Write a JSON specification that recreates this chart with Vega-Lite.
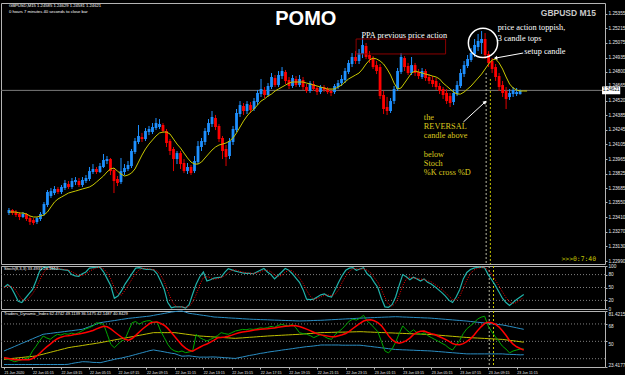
{
"$schema":"https://vega.github.io/schema/vega-lite/v6.json",
"background":"#000000",
"padding":{"left":0,"top":2,"right":0,"bottom":0},
"spacing":2,
"bounds":"flush",
"config":{"view":{"stroke":"#b4b4b4","strokeWidth":1},"axis":{"labelColor":"#e6e6e6","tickColor":"#b4b4b4","labelFont":"Liberation Sans","tickSize":2,"labelPadding":1,"grid":false,"labelFlush":false,"domain":false,"labelBound":false,"labelOverlap":false,"tickCount":100}},
"datasets":{"bars":[
{"i":0,"o":1.23449,"h":1.23497,"l":1.2343,"c":1.23478,"ma":1.23459,"k":50,"d":50,"up":40,"mid":31.4,"lo":26,"g":33.1,"r":33},
{"i":1,"o":1.23478,"h":1.23487,"l":1.2343,"c":1.23449,"ma":1.23459,"k":57,"d":53.5,"up":41.6,"mid":31.8,"lo":26,"g":31.7,"r":32.4},
{"i":2,"o":1.23459,"h":1.23478,"l":1.23411,"c":1.2343,"ma":1.23459,"k":50,"d":52.3,"up":43.1,"mid":32.2,"lo":26,"g":30.3,"r":31.7},
{"i":3,"o":1.2344,"h":1.23459,"l":1.23382,"c":1.23411,"ma":1.23449,"k":35,"d":47.3,"up":44.7,"mid":32.5,"lo":26,"g":28.9,"r":31},
{"i":4,"o":1.23411,"h":1.23459,"l":1.23401,"c":1.2344,"ma":1.23449,"k":18,"d":34.3,"up":46.3,"mid":32.9,"lo":26,"g":30,"r":30.8},
{"i":5,"o":1.2344,"h":1.23449,"l":1.23373,"c":1.23392,"ma":1.2344,"k":15,"d":22.7,"up":47.9,"mid":33.3,"lo":26,"g":31,"r":30.8},
{"i":6,"o":1.23401,"h":1.23421,"l":1.23335,"c":1.23363,"ma":1.23421,"k":25,"d":19.3,"up":49.4,"mid":33.7,"lo":26,"g":32,"r":31},
{"i":7,"o":1.23382,"h":1.23401,"l":1.23335,"c":1.23354,"ma":1.23411,"k":35,"d":25,"up":51,"mid":34,"lo":26,"g":33.1,"r":31},
{"i":8,"o":1.23363,"h":1.23411,"l":1.23344,"c":1.23401,"ma":1.23411,"k":45,"d":35,"up":52.6,"mid":34.4,"lo":26,"g":40,"r":32.2},
{"i":9,"o":1.23392,"h":1.23459,"l":1.23373,"c":1.2344,"ma":1.23421,"k":65,"d":48.3,"up":54.2,"mid":34.8,"lo":26,"g":45,"r":34.3},
{"i":10,"o":1.2344,"h":1.23554,"l":1.23421,"c":1.23535,"ma":1.2343,"k":88,"d":66,"up":55.7,"mid":35.8,"lo":26,"g":50.5,"r":37.4},
{"i":11,"o":1.23526,"h":1.23669,"l":1.23507,"c":1.2365,"ma":1.23459,"k":96,"d":83,"up":57.3,"mid":36.7,"lo":26,"g":55.5,"r":41},
{"i":12,"o":1.23612,"h":1.23688,"l":1.23593,"c":1.23659,"ma":1.23507,"k":98,"d":94,"up":57.8,"mid":37.7,"lo":26,"g":53.5,"r":44.2},
{"i":13,"o":1.2364,"h":1.23707,"l":1.23621,"c":1.23679,"ma":1.23554,"k":96,"d":96.7,"up":58.2,"mid":38.6,"lo":26,"g":52.1,"r":47.1},
{"i":14,"o":1.23679,"h":1.23698,"l":1.23631,"c":1.2365,"ma":1.23583,"k":94,"d":96,"up":58.7,"mid":39.6,"lo":26,"g":55,"r":50.2},
{"i":15,"o":1.2365,"h":1.23717,"l":1.23631,"c":1.23698,"ma":1.23602,"k":93,"d":94.3,"up":59.2,"mid":40.5,"lo":26,"g":57.3,"r":52.7},
{"i":16,"o":1.23688,"h":1.23765,"l":1.23669,"c":1.23736,"ma":1.23621,"k":92,"d":93,"up":59.6,"mid":41.5,"lo":26,"g":56.5,"r":54.3},
{"i":17,"o":1.23726,"h":1.23755,"l":1.23679,"c":1.23698,"ma":1.2364,"k":91,"d":92,"up":60.1,"mid":42.4,"lo":26,"g":58,"r":55.4},
{"i":18,"o":1.23698,"h":1.23784,"l":1.23679,"c":1.23755,"ma":1.2365,"k":90,"d":91,"up":60.6,"mid":43.4,"lo":26.2,"g":57.3,"r":55.7},
{"i":19,"o":1.23745,"h":1.23793,"l":1.23717,"c":1.23765,"ma":1.23659,"k":80,"d":87,"up":61,"mid":44,"lo":27,"g":58.5,"r":56.4},
{"i":20,"o":1.23755,"h":1.23784,"l":1.23698,"c":1.23717,"ma":1.23669,"k":77,"d":82.3,"up":61.5,"mid":44.6,"lo":27.7,"g":57.5,"r":57.2},
{"i":21,"o":1.23717,"h":1.23793,"l":1.23698,"c":1.23765,"ma":1.23679,"k":76,"d":77.7,"up":62,"mid":45.1,"lo":28.2,"g":59,"r":57.7},
{"i":22,"o":1.23755,"h":1.23812,"l":1.23736,"c":1.23784,"ma":1.23688,"k":82,"d":78.3,"up":62.5,"mid":45.7,"lo":28.9,"g":61,"r":58.3},
{"i":23,"o":1.23774,"h":1.23889,"l":1.23755,"c":1.2385,"ma":1.23698,"k":86,"d":81.3,"up":63.8,"mid":46.3,"lo":28.8,"g":63,"r":59.2},
{"i":24,"o":1.23841,"h":1.23917,"l":1.23822,"c":1.2387,"ma":1.23717,"k":95,"d":87.7,"up":65.2,"mid":46.9,"lo":28.6,"g":64.2,"r":60.1},
{"i":25,"o":1.2387,"h":1.23889,"l":1.23822,"c":1.23841,"ma":1.23745,"k":96,"d":92.3,"up":66.6,"mid":47.4,"lo":28.2,"g":66,"r":61.3},
{"i":26,"o":1.23841,"h":1.23927,"l":1.23831,"c":1.23898,"ma":1.23774,"k":97,"d":96,"up":67.9,"mid":48,"lo":28.1,"g":69.3,"r":62.9},
{"i":27,"o":1.23889,"h":1.24013,"l":1.23879,"c":1.23956,"ma":1.23803,"k":97,"d":96.7,"up":69.3,"mid":48.6,"lo":27.9,"g":68.5,"r":64.4},
{"i":28,"o":1.23946,"h":1.23994,"l":1.23917,"c":1.23965,"ma":1.23841,"k":86,"d":93.3,"up":69.9,"mid":49.3,"lo":28.7,"g":67.6,"r":65.7},
{"i":29,"o":1.23965,"h":1.23975,"l":1.23812,"c":1.2385,"ma":1.2387,"k":70,"d":84.3,"up":70.4,"mid":50,"lo":29.6,"g":57.3,"r":65.1},
{"i":30,"o":1.2386,"h":1.23879,"l":1.2364,"c":1.23755,"ma":1.23879,"k":54,"d":70,"up":71,"mid":50.7,"lo":30.4,"g":46.9,"r":62.8},
{"i":31,"o":1.23774,"h":1.23803,"l":1.23707,"c":1.23736,"ma":1.2385,"k":25,"d":49.7,"up":71.5,"mid":51.4,"lo":31.3,"g":43.4,"r":59.9},
{"i":32,"o":1.23745,"h":1.23975,"l":1.23726,"c":1.2385,"ma":1.23822,"k":30,"d":36.3,"up":72.1,"mid":52.1,"lo":32.1,"g":47,"r":57.1},
{"i":33,"o":1.23841,"h":1.23917,"l":1.23812,"c":1.23879,"ma":1.23803,"k":42,"d":32.3,"up":72.7,"mid":52.7,"lo":32.7,"g":50.4,"r":54.4},
{"i":34,"o":1.2387,"h":1.23946,"l":1.2385,"c":1.23908,"ma":1.23812,"k":58,"d":43.3,"up":73.2,"mid":53.4,"lo":33.6,"g":52.1,"r":52.1},
{"i":35,"o":1.23898,"h":1.24061,"l":1.23879,"c":1.24042,"ma":1.23831,"k":70,"d":56.7,"up":73.8,"mid":54.1,"lo":34.4,"g":61,"r":51.2},
{"i":36,"o":1.24032,"h":1.24166,"l":1.24013,"c":1.24137,"ma":1.2387,"k":83,"d":70.3,"up":74.2,"mid":54.8,"lo":35.4,"g":69.3,"r":52.9},
{"i":37,"o":1.24128,"h":1.2429,"l":1.24108,"c":1.24185,"ma":1.23936,"k":95,"d":82.7,"up":74.6,"mid":55.5,"lo":36.4,"g":70.5,"r":56.2},
{"i":38,"o":1.24175,"h":1.24214,"l":1.24128,"c":1.24156,"ma":1.24003,"k":96,"d":91.3,"up":75,"mid":56.2,"lo":37.4,"g":67.6,"r":59.7},
{"i":39,"o":1.24156,"h":1.24261,"l":1.24137,"c":1.24233,"ma":1.24061,"k":94,"d":95,"up":75.4,"mid":56.9,"lo":38.4,"g":70,"r":63},
{"i":40,"o":1.24223,"h":1.24281,"l":1.24194,"c":1.24252,"ma":1.24108,"k":92,"d":94,"up":75.8,"mid":57.6,"lo":39.4,"g":71.1,"r":65.9},
{"i":41,"o":1.24223,"h":1.24309,"l":1.24204,"c":1.24271,"ma":1.24147,"k":92,"d":92.7,"up":76.2,"mid":58.3,"lo":40.4,"g":71.5,"r":68.7},
{"i":42,"o":1.24261,"h":1.24357,"l":1.24242,"c":1.24309,"ma":1.24185,"k":91,"d":91.7,"up":76.9,"mid":59,"lo":41.1,"g":69.3,"r":69.9},
{"i":43,"o":1.24271,"h":1.24347,"l":1.24252,"c":1.243,"ma":1.24214,"k":82,"d":88.3,"up":77.6,"mid":59,"lo":40.4,"g":70,"r":70},
{"i":44,"o":1.2429,"h":1.24309,"l":1.24214,"c":1.24233,"ma":1.24223,"k":65,"d":79.3,"up":78.2,"mid":59,"lo":39.8,"g":60.7,"r":68.6},
{"i":45,"o":1.24233,"h":1.24252,"l":1.2408,"c":1.24118,"ma":1.24223,"k":46,"d":64.3,"up":78.9,"mid":59,"lo":39.1,"g":54,"r":66.7},
{"i":46,"o":1.24137,"h":1.24156,"l":1.24003,"c":1.24042,"ma":1.24204,"k":15,"d":42,"up":79.6,"mid":59,"lo":38.4,"g":46.9,"r":63.4},
{"i":47,"o":1.24061,"h":1.2408,"l":1.2385,"c":1.23965,"ma":1.24156,"k":3,"d":21.3,"up":80.3,"mid":59,"lo":37.7,"g":42,"r":59.2},
{"i":48,"o":1.23965,"h":1.24042,"l":1.23917,"c":1.24022,"ma":1.24108,"k":5,"d":7.7,"up":80.8,"mid":59,"lo":37.2,"g":40,"r":54.7},
{"i":49,"o":1.24022,"h":1.24042,"l":1.2387,"c":1.23917,"ma":1.2407,"k":5,"d":4.3,"up":81.2,"mid":58.5,"lo":35.8,"g":39,"r":50.4},
{"i":50,"o":1.23927,"h":1.23965,"l":1.23831,"c":1.2385,"ma":1.24022,"k":5,"d":5,"up":81.4,"mid":58,"lo":34.6,"g":40,"r":46.1},
{"i":51,"o":1.2385,"h":1.23927,"l":1.23822,"c":1.23889,"ma":1.23975,"k":2,"d":4,"up":80.2,"mid":57.5,"lo":34.8,"g":38.3,"r":42.9},
{"i":52,"o":1.23889,"h":1.23908,"l":1.23812,"c":1.23831,"ma":1.23936,"k":10,"d":5.7,"up":79,"mid":57,"lo":35,"g":39,"r":40.7},
{"i":53,"o":1.2385,"h":1.23994,"l":1.23831,"c":1.23946,"ma":1.23917,"k":35,"d":15.7,"up":78.5,"mid":56.5,"lo":34.5,"g":40,"r":39.8},
{"i":54,"o":1.23936,"h":1.24137,"l":1.23917,"c":1.24089,"ma":1.23917,"k":58,"d":34.3,"up":78,"mid":56,"lo":34,"g":57.3,"r":41.9},
{"i":55,"o":1.2408,"h":1.24166,"l":1.24042,"c":1.24137,"ma":1.23936,"k":75,"d":56,"up":77.4,"mid":55.5,"lo":33.6,"g":53.8,"r":43.9},
{"i":56,"o":1.24128,"h":1.24261,"l":1.24099,"c":1.24233,"ma":1.23975,"k":86,"d":73,"up":76.9,"mid":55.3,"lo":33.7,"g":52,"r":45.8},
{"i":57,"o":1.24223,"h":1.24347,"l":1.24194,"c":1.24309,"ma":1.24013,"k":65,"d":75.3,"up":76.4,"mid":55,"lo":33.6,"g":50.4,"r":47.3},
{"i":58,"o":1.243,"h":1.24424,"l":1.24271,"c":1.24367,"ma":1.24051,"k":68,"d":73,"up":75.8,"mid":54.8,"lo":33.8,"g":52,"r":49.2},
{"i":59,"o":1.24357,"h":1.24386,"l":1.24242,"c":1.24271,"ma":1.2408,"k":72,"d":68.3,"up":75.2,"mid":54.5,"lo":33.8,"g":53.8,"r":51.3},
{"i":60,"o":1.24281,"h":1.243,"l":1.24128,"c":1.24156,"ma":1.24099,"k":73,"d":71,"up":75,"mid":54.3,"lo":33.6,"g":56,"r":53.6},
{"i":61,"o":1.24166,"h":1.24185,"l":1.23965,"c":1.24042,"ma":1.24108,"k":74,"d":73,"up":74.8,"mid":54.1,"lo":33.4,"g":59,"r":53.9},
{"i":62,"o":1.24061,"h":1.24099,"l":1.23898,"c":1.23984,"ma":1.24118,"k":85,"d":77.3,"up":74.6,"mid":53.8,"lo":33,"g":58,"r":54.5},
{"i":63,"o":1.23994,"h":1.24166,"l":1.23965,"c":1.24137,"ma":1.24137,"k":94,"d":84.3,"up":74.3,"mid":53.6,"lo":32.9,"g":57.3,"r":55.2},
{"i":64,"o":1.24128,"h":1.24281,"l":1.24099,"c":1.24252,"ma":1.24166,"k":91,"d":90,"up":74.1,"mid":53.3,"lo":32.5,"g":59,"r":56.4},
{"i":65,"o":1.24242,"h":1.24443,"l":1.24223,"c":1.24405,"ma":1.24214,"k":88,"d":91,"up":73.9,"mid":53.1,"lo":32.3,"g":60.7,"r":57.7},
{"i":66,"o":1.24395,"h":1.24519,"l":1.24367,"c":1.24481,"ma":1.24271,"k":86,"d":88.3,"up":73.7,"mid":53.4,"lo":33.1,"g":61.5,"r":58.8},
{"i":67,"o":1.24472,"h":1.245,"l":1.24386,"c":1.24424,"ma":1.24328,"k":84,"d":86,"up":73.4,"mid":53.6,"lo":33.8,"g":62.4,"r":59.7},
{"i":68,"o":1.24424,"h":1.24519,"l":1.24395,"c":1.24491,"ma":1.24376,"k":83,"d":84.3,"up":73.2,"mid":53.9,"lo":34.6,"g":62,"r":60.1},
{"i":69,"o":1.24481,"h":1.2451,"l":1.24405,"c":1.24433,"ma":1.24414,"k":83,"d":83.3,"up":73,"mid":54.2,"lo":35.4,"g":62.8,"r":60.8},
{"i":70,"o":1.24443,"h":1.24548,"l":1.24424,"c":1.24519,"ma":1.24443,"k":82,"d":82.7,"up":72.8,"mid":54.4,"lo":36,"g":62.4,"r":61.5},
{"i":71,"o":1.2451,"h":1.24625,"l":1.24481,"c":1.24596,"ma":1.24481,"k":86,"d":83.7,"up":72.7,"mid":54.7,"lo":36.7,"g":63,"r":62.1},
{"i":72,"o":1.24586,"h":1.2473,"l":1.24558,"c":1.24634,"ma":1.24519,"k":90,"d":86,"up":72.5,"mid":55,"lo":37.5,"g":64,"r":62.6},
{"i":73,"o":1.24625,"h":1.24653,"l":1.24548,"c":1.24577,"ma":1.24539,"k":94,"d":90,"up":72.4,"mid":55.2,"lo":38,"g":63.5,"r":62.9},
{"i":74,"o":1.24577,"h":1.24691,"l":1.24558,"c":1.24663,"ma":1.24567,"k":86,"d":90,"up":72.3,"mid":55.5,"lo":38.7,"g":64.2,"r":63.1},
{"i":75,"o":1.24653,"h":1.24787,"l":1.24634,"c":1.24749,"ma":1.24586,"k":80,"d":86.7,"up":72.1,"mid":55.7,"lo":39.3,"g":65.5,"r":63.6},
{"i":76,"o":1.24739,"h":1.24768,"l":1.24653,"c":1.24672,"ma":1.24615,"k":70,"d":78.7,"up":72,"mid":55.9,"lo":39.8,"g":64.5,"r":63.9},
{"i":77,"o":1.24672,"h":1.24806,"l":1.24653,"c":1.24768,"ma":1.24634,"k":78,"d":76,"up":71.9,"mid":56.1,"lo":40.3,"g":66.5,"r":64.5},
{"i":78,"o":1.24758,"h":1.24844,"l":1.2473,"c":1.24806,"ma":1.24653,"k":86,"d":78,"up":71.7,"mid":56.3,"lo":40.9,"g":67.6,"r":65.1},
{"i":79,"o":1.24797,"h":1.24816,"l":1.24682,"c":1.24711,"ma":1.24672,"k":94,"d":86,"up":71.6,"mid":56.5,"lo":41.4,"g":66.5,"r":65.5},
{"i":80,"o":1.2472,"h":1.24749,"l":1.24634,"c":1.24663,"ma":1.24691,"k":90,"d":90,"up":71.5,"mid":56.7,"lo":41.9,"g":66,"r":65.8},
{"i":81,"o":1.24663,"h":1.24768,"l":1.24644,"c":1.24739,"ma":1.24701,"k":82,"d":88.7,"up":71.4,"mid":56.9,"lo":42.4,"g":67.6,"r":66.3},
{"i":82,"o":1.2473,"h":1.24758,"l":1.24653,"c":1.24672,"ma":1.24701,"k":72,"d":81.3,"up":71.2,"mid":57.1,"lo":43,"g":64,"r":66.1},
{"i":83,"o":1.24672,"h":1.24768,"l":1.24653,"c":1.2473,"ma":1.24701,"k":62,"d":72,"up":71.1,"mid":57.3,"lo":43.5,"g":59,"r":65.3},
{"i":84,"o":1.2472,"h":1.24749,"l":1.24625,"c":1.24653,"ma":1.24701,"k":45,"d":59.7,"up":71.2,"mid":57.6,"lo":44,"g":58,"r":64.1},
{"i":85,"o":1.24653,"h":1.24682,"l":1.24596,"c":1.24615,"ma":1.24691,"k":23,"d":43.3,"up":71.3,"mid":57.9,"lo":44.5,"g":57.3,"r":62.6},
{"i":86,"o":1.24615,"h":1.24711,"l":1.24596,"c":1.24691,"ma":1.24682,"k":22,"d":30,"up":71.4,"mid":58.1,"lo":44.8,"g":56,"r":61.1},
{"i":87,"o":1.24682,"h":1.24711,"l":1.24615,"c":1.24634,"ma":1.24672,"k":23,"d":22.7,"up":71.6,"mid":58.4,"lo":45.2,"g":53.8,"r":59.4},
{"i":88,"o":1.24644,"h":1.24663,"l":1.24577,"c":1.24605,"ma":1.24663,"k":28,"d":24.3,"up":71.7,"mid":58.7,"lo":45.7,"g":55.5,"r":57.7},
{"i":89,"o":1.24605,"h":1.24672,"l":1.24586,"c":1.24653,"ma":1.24653,"k":33,"d":28,"up":71.8,"mid":59,"lo":46.2,"g":57.3,"r":56.7},
{"i":90,"o":1.24653,"h":1.24672,"l":1.24605,"c":1.24625,"ma":1.24644,"k":35,"d":32,"up":72,"mid":59.1,"lo":46.2,"g":55,"r":56.1},
{"i":91,"o":1.24634,"h":1.24653,"l":1.24586,"c":1.24605,"ma":1.24634,"k":30,"d":32.7,"up":72.2,"mid":59.2,"lo":46.2,"g":53,"r":55.4},
{"i":92,"o":1.24615,"h":1.24634,"l":1.24567,"c":1.24596,"ma":1.24634,"k":28,"d":31,"up":72.4,"mid":59.3,"lo":46.2,"g":52,"r":54.7},
{"i":93,"o":1.24605,"h":1.24682,"l":1.24586,"c":1.24663,"ma":1.24634,"k":45,"d":34.3,"up":72.6,"mid":59.4,"lo":46.2,"g":57,"r":54.8},
{"i":94,"o":1.24653,"h":1.2472,"l":1.24634,"c":1.24691,"ma":1.24653,"k":62,"d":45,"up":72.8,"mid":59.5,"lo":46.2,"g":60,"r":55.7},
{"i":95,"o":1.24691,"h":1.24768,"l":1.24663,"c":1.2473,"ma":1.24672,"k":78,"d":61.7,"up":73,"mid":59.5,"lo":46,"g":63,"r":56.8},
{"i":96,"o":1.2472,"h":1.24835,"l":1.24691,"c":1.24806,"ma":1.24701,"k":90,"d":76.7,"up":73.2,"mid":59.6,"lo":46,"g":67,"r":58.1},
{"i":97,"o":1.24797,"h":1.24911,"l":1.24777,"c":1.24883,"ma":1.2473,"k":95,"d":87.7,"up":73.4,"mid":59.7,"lo":46,"g":71,"r":60.4},
{"i":98,"o":1.24873,"h":1.24978,"l":1.24844,"c":1.2494,"ma":1.24749,"k":96,"d":93.7,"up":73.6,"mid":59.8,"lo":46,"g":73,"r":63.3},
{"i":99,"o":1.2494,"h":1.24997,"l":1.24873,"c":1.24902,"ma":1.24768,"k":90,"d":93.7,"up":73.8,"mid":59.9,"lo":46,"g":72,"r":66.1},
{"i":100,"o":1.24902,"h":1.25016,"l":1.24873,"c":1.24978,"ma":1.24787,"k":93,"d":93,"up":74,"mid":60,"lo":46,"g":74,"r":68.6},
{"i":101,"o":1.24969,"h":1.25141,"l":1.2493,"c":1.25055,"ma":1.24825,"k":96,"d":93,"up":74.2,"mid":59.9,"lo":45.6,"g":77,"r":71},
{"i":102,"o":1.25045,"h":1.25074,"l":1.24921,"c":1.2494,"ma":1.24873,"k":82,"d":90.3,"up":74.3,"mid":59.7,"lo":45.1,"g":71,"r":72.1},
{"i":103,"o":1.24959,"h":1.24997,"l":1.24883,"c":1.24921,"ma":1.24911,"k":75,"d":84.3,"up":74.5,"mid":59.6,"lo":44.7,"g":68,"r":72.3},
{"i":104,"o":1.2493,"h":1.24949,"l":1.24825,"c":1.24844,"ma":1.2493,"k":62,"d":73,"up":74.6,"mid":59.4,"lo":44.2,"g":64,"r":71.3},
{"i":105,"o":1.24863,"h":1.24902,"l":1.24777,"c":1.24806,"ma":1.24921,"k":50,"d":62.3,"up":74.8,"mid":59.3,"lo":43.8,"g":60,"r":69.4},
{"i":106,"o":1.24844,"h":1.24873,"l":1.24539,"c":1.24567,"ma":1.24902,"k":25,"d":45.7,"up":74.9,"mid":59.1,"lo":43.3,"g":50,"r":66.3},
{"i":107,"o":1.24577,"h":1.24615,"l":1.24395,"c":1.24443,"ma":1.24873,"k":5,"d":26.7,"up":75.1,"mid":59,"lo":42.9,"g":40,"r":61.4},
{"i":108,"o":1.24462,"h":1.24558,"l":1.24386,"c":1.24424,"ma":1.24825,"k":4,"d":11.3,"up":75.2,"mid":58.8,"lo":42.4,"g":38,"r":55.9},
{"i":109,"o":1.24424,"h":1.24548,"l":1.24405,"c":1.24519,"ma":1.24768,"k":10,"d":6.3,"up":75.4,"mid":58.7,"lo":42,"g":42,"r":51.7},
{"i":110,"o":1.24519,"h":1.24663,"l":1.24491,"c":1.24634,"ma":1.24691,"k":28,"d":14,"up":75.5,"mid":58.5,"lo":41.5,"g":49,"r":49},
{"i":111,"o":1.24634,"h":1.24835,"l":1.24615,"c":1.24806,"ma":1.24634,"k":55,"d":31,"up":75.4,"mid":58.4,"lo":41.4,"g":58,"r":48.1},
{"i":112,"o":1.24797,"h":1.24978,"l":1.24777,"c":1.2494,"ma":1.24644,"k":80,"d":54.3,"up":75.2,"mid":58.2,"lo":41.2,"g":66,"r":49},
{"i":113,"o":1.2493,"h":1.24949,"l":1.24806,"c":1.24844,"ma":1.24691,"k":75,"d":70,"up":75.1,"mid":58.1,"lo":41.1,"g":62,"r":50.7},
{"i":114,"o":1.24854,"h":1.24883,"l":1.24768,"c":1.24787,"ma":1.24739,"k":68,"d":74.3,"up":74.9,"mid":57.9,"lo":40.9,"g":59,"r":53.4},
{"i":115,"o":1.24787,"h":1.2494,"l":1.24768,"c":1.24863,"ma":1.24787,"k":74,"d":72.3,"up":74.8,"mid":57.8,"lo":40.8,"g":62,"r":56.9},
{"i":116,"o":1.24863,"h":1.24883,"l":1.24758,"c":1.24787,"ma":1.24806,"k":70,"d":70.7,"up":74.6,"mid":57.6,"lo":40.6,"g":59,"r":59.3},
{"i":117,"o":1.24797,"h":1.24825,"l":1.2473,"c":1.24758,"ma":1.24797,"k":65,"d":69.7,"up":74.5,"mid":57.5,"lo":40.5,"g":57,"r":60.4},
{"i":118,"o":1.24749,"h":1.24835,"l":1.2473,"c":1.24806,"ma":1.24787,"k":70,"d":68.3,"up":74.3,"mid":57.3,"lo":40.3,"g":59,"r":60.6},
{"i":119,"o":1.24806,"h":1.24825,"l":1.24711,"c":1.24739,"ma":1.24777,"k":62,"d":65.7,"up":74.2,"mid":57.2,"lo":40.2,"g":56,"r":59.1},
{"i":120,"o":1.24749,"h":1.24777,"l":1.24682,"c":1.24711,"ma":1.24768,"k":58,"d":63.3,"up":74,"mid":57,"lo":40,"g":54,"r":58},
{"i":121,"o":1.2472,"h":1.24758,"l":1.24653,"c":1.24682,"ma":1.24758,"k":52,"d":57.3,"up":73.7,"mid":56.7,"lo":39.7,"g":52,"r":57},
{"i":122,"o":1.24711,"h":1.24739,"l":1.24625,"c":1.24653,"ma":1.24749,"k":45,"d":51.7,"up":73.4,"mid":56.4,"lo":39.4,"g":50,"r":55.3},
{"i":123,"o":1.24663,"h":1.24691,"l":1.24586,"c":1.24615,"ma":1.2473,"k":38,"d":45,"up":73.1,"mid":56.1,"lo":39.1,"g":48,"r":53.7},
{"i":124,"o":1.24634,"h":1.24653,"l":1.24539,"c":1.24577,"ma":1.24691,"k":30,"d":37.7,"up":72.8,"mid":55.8,"lo":38.8,"g":46,"r":52.1},
{"i":125,"o":1.24596,"h":1.24634,"l":1.24491,"c":1.24519,"ma":1.24663,"k":20,"d":29.3,"up":72.5,"mid":55.5,"lo":38.5,"g":43,"r":49.9},
{"i":126,"o":1.24567,"h":1.24596,"l":1.24462,"c":1.245,"ma":1.24634,"k":15,"d":21.7,"up":72.2,"mid":55.2,"lo":38.2,"g":41,"r":47.7},
{"i":127,"o":1.2451,"h":1.24634,"l":1.24481,"c":1.24596,"ma":1.24605,"k":28,"d":21,"up":71.9,"mid":54.9,"lo":37.9,"g":46,"r":46.6},
{"i":128,"o":1.24586,"h":1.24711,"l":1.24567,"c":1.24672,"ma":1.24586,"k":45,"d":29.3,"up":71.6,"mid":54.6,"lo":37.6,"g":51,"r":46.4},
{"i":129,"o":1.24663,"h":1.24825,"l":1.24644,"c":1.24787,"ma":1.24586,"k":70,"d":47.7,"up":71.3,"mid":54.3,"lo":37.3,"g":58,"r":47.6},
{"i":130,"o":1.24777,"h":1.24902,"l":1.24749,"c":1.24863,"ma":1.24605,"k":85,"d":66.7,"up":71,"mid":54,"lo":37,"g":63,"r":49.7},
{"i":131,"o":1.24854,"h":1.24959,"l":1.24835,"c":1.24921,"ma":1.24634,"k":92,"d":82.3,"up":70.6,"mid":53.8,"lo":37,"g":66,"r":52.6},
{"i":132,"o":1.24911,"h":1.25026,"l":1.24892,"c":1.24978,"ma":1.24663,"k":95,"d":90.7,"up":70.2,"mid":53.6,"lo":37,"g":69,"r":56.3},
{"i":133,"o":1.24969,"h":1.25112,"l":1.2494,"c":1.25055,"ma":1.24701,"k":97,"d":94.7,"up":69.8,"mid":53.4,"lo":37,"g":73,"r":60.9},
{"i":134,"o":1.25035,"h":1.2516,"l":1.24997,"c":1.25093,"ma":1.24739,"k":97,"d":96.3,"up":69.4,"mid":53.2,"lo":37,"g":75,"r":65},
{"i":135,"o":1.25074,"h":1.25188,"l":1.24969,"c":1.25112,"ma":1.24777,"k":96,"d":96.7,"up":69,"mid":53,"lo":37,"g":76,"r":68.6},
{"i":136,"o":1.25112,"h":1.25169,"l":1.24921,"c":1.24959,"ma":1.24825,"k":80,"d":91,"up":68.6,"mid":52.8,"lo":37,"g":66,"r":69.7},
{"i":137,"o":1.24969,"h":1.24997,"l":1.24844,"c":1.24883,"ma":1.24873,"k":68,"d":81.3,"up":68.2,"mid":52.6,"lo":37,"g":60,"r":69.3},
{"i":138,"o":1.24902,"h":1.2493,"l":1.24787,"c":1.24825,"ma":1.24911,"k":55,"d":67.7,"up":67.8,"mid":52.4,"lo":37,"g":55,"r":67.7},
{"i":139,"o":1.24844,"h":1.24873,"l":1.24711,"c":1.24749,"ma":1.24921,"k":40,"d":54.3,"up":67.4,"mid":52.2,"lo":37,"g":50,"r":65},
{"i":140,"o":1.24758,"h":1.24787,"l":1.24615,"c":1.24653,"ma":1.24883,"k":25,"d":40,"up":67,"mid":52,"lo":37,"g":45,"r":61},
{"i":141,"o":1.24672,"h":1.24711,"l":1.24558,"c":1.24596,"ma":1.24825,"k":15,"d":26.7,"up":66.3,"mid":51.5,"lo":36.7,"g":42,"r":56.3},
{"i":142,"o":1.24615,"h":1.24653,"l":1.24443,"c":1.24539,"ma":1.24749,"k":8,"d":16,"up":65.5,"mid":51,"lo":36.5,"g":38,"r":50.9},
{"i":143,"o":1.24558,"h":1.24634,"l":1.24529,"c":1.24596,"ma":1.24682,"k":15,"d":12.7,"up":64.8,"mid":50.6,"lo":36.4,"g":40,"r":47.1},
{"i":144,"o":1.24586,"h":1.24653,"l":1.24558,"c":1.24625,"ma":1.24644,"k":22,"d":15,"up":64,"mid":50.1,"lo":36.2,"g":41,"r":44.4},
{"i":145,"o":1.24586,"h":1.24644,"l":1.24567,"c":1.24605,"ma":1.24625,"k":28,"d":21.7,"up":63.2,"mid":49.6,"lo":36,"g":42,"r":42.6},
{"i":146,"o":1.24585,"h":1.24629,"l":1.24581,"c":1.24621,"ma":1.24615,"k":33.49,"d":26.16,"up":62.47,"mid":49.11,"lo":36.15,"g":42.15,"r":40.84},
{"i":147,"ma":1.24615},
{"i":148,"ma":1.24615}
]},
"vconcat":[
{"width":604,"height":261,"layer":[
 {"data":{"values":[{}]},"mark":{"type":"rule","color":"#7a7a7a","strokeWidth":1},
  "encoding":{"y":{"datum":1.24621,"type":"quantitative","scale":{"domain":[1.22962,1.25456],"nice":false,"zero":false},
   "axis":{"orient":"right","title":null,"values":[1.2299,1.2313,1.2327,1.2341,1.2355,1.23685,1.23825,1.23965,1.24105,1.24245,1.24385,1.2452,1.24665,1.248,1.24935,1.25075,1.25215,1.25355],"format":".5f","labelFontSize":4.7,"tickCount":100}}}},
 {"data":{"values":[{"i":136.3,"top":1.24787,"bot":1.22962,"col":"#b8b8a0"},{"i":137.5,"top":1.2473,"bot":1.22962,"col":"#c8c800"}]},
  "mark":{"type":"rule","strokeDash":[2,2],"strokeWidth":1},
  "encoding":{"x":{"field":"i","type":"quantitative","scale":{"domain":[-0.8427,168.82],"nice":false,"zero":false},"axis":null},"y":{"field":"top","type":"quantitative"},"y2":{"field":"bot"},"color":{"field":"col","type":"nominal","scale":null}}},
 {"data":{"name":"bars"},"transform":[{"filter":"isValid(datum.o)"}],
  "mark":{"type":"rule","strokeWidth":1},
  "encoding":{"x":{"field":"i","type":"quantitative","axis":null},"y":{"field":"l","type":"quantitative"},"y2":{"field":"h"},"color":{"condition":{"test":"datum.c >= datum.o","value":"#1e90ff"},"value":"#e00000"}}},
 {"data":{"name":"bars"},"transform":[{"filter":"isValid(datum.o)"}],
  "mark":{"type":"bar","width":2.8},
  "encoding":{"x":{"field":"i","type":"quantitative","axis":null},"y":{"field":"o","type":"quantitative"},"y2":{"field":"c"},"color":{"condition":{"test":"datum.c >= datum.o","value":"#1e90ff"},"value":"#ff0000"}}},
 {"data":{"name":"bars"},"mark":{"type":"line","color":"#c8c800","strokeWidth":1},
  "encoding":{"x":{"field":"i","type":"quantitative","axis":null},"y":{"field":"ma","type":"quantitative"}}},
 {"data":{"values":[{"x1":99.16,"x2":124.72,"p1":1.25112,"p2":1.24969}]},
  "mark":{"type":"rect","fillOpacity":0,"stroke":"#8b0000","strokeWidth":1},
  "encoding":{"x":{"field":"x1","type":"quantitative","axis":null},"x2":{"field":"x2"},"y":{"field":"p1","type":"quantitative"},"y2":{"field":"p2"}}},
 {"data":{"values":[{"i":135.4,"p":1.25074}]},
  "mark":{"type":"point","shape":"circle","filled":false,"color":"#ffffff","strokeWidth":1.5,"size":855,"opacity":1},
  "encoding":{"x":{"field":"i","type":"quantitative","axis":null},"y":{"field":"p","type":"quantitative"}}},
 {"data":{"values":[{"x1":146.9,"y1":1.24978,"x2":139.0,"y2":1.2493},{"x1":129.8,"y1":1.24319,"x2":136.0,"y2":1.2451}]},
  "mark":{"type":"rule","color":"#ffffff","strokeWidth":1},
  "encoding":{"x":{"field":"x1","type":"quantitative","axis":null},"x2":{"field":"x2"},"y":{"field":"y1","type":"quantitative"},"y2":{"field":"y2"}}},
 {"data":{"values":[{"x":139.0,"p":1.2493,"a":260},{"x":136.0,"p":1.2451,"a":48}]},
  "mark":{"type":"point","shape":"triangle-up","filled":true,"color":"#ffffff","size":16,"opacity":1},
  "encoding":{"x":{"field":"x","type":"quantitative","axis":null},"y":{"field":"p","type":"quantitative"},"angle":{"field":"a","type":"quantitative","scale":null}}},
 {"data":{"values":[{"i":84.8,"p":1.25303,"t":"POMO"}]},
  "mark":{"type":"text","font":"Liberation Sans","fontWeight":"bold","fontSize":20,"color":"#ffffff","align":"center","baseline":"middle"},
  "encoding":{"x":{"field":"i","type":"quantitative","axis":null},"y":{"field":"p","type":"quantitative"},"text":{"field":"t"}}},
 {"data":{"values":[{"i":167.7,"p":1.2536,"t":"GBPUSD M15"}]},
  "mark":{"type":"text","font":"Liberation Sans","fontWeight":"bold","fontSize":8.5,"color":"#c8c8c8","align":"right","baseline":"middle"},
  "encoding":{"x":{"field":"i","type":"quantitative","axis":null},"y":{"field":"p","type":"quantitative"},"text":{"field":"t"}}},
 {"data":{"values":[{"i":0,"p":1.25427,"t":"GBPUSD,M15  1.24585 1.24629 1.24581 1.24621"},{"i":0,"p":1.2537,"t":"0 hours 7 minutes 40 seconds to close bar"}]},
  "mark":{"type":"text","font":"Liberation Sans","fontSize":4.2,"color":"#ffffff","align":"left","baseline":"middle"},
  "encoding":{"x":{"field":"i","type":"quantitative","axis":null},"y":{"field":"p","type":"quantitative"},"text":{"field":"t"}}},
 {"data":{"values":[{"i":112.9,"p":1.25141,"t":"PPA previous price action"}]},
  "mark":{"type":"text","font":"Liberation Serif","fontSize":8.3,"color":"#ffffff","align":"center","baseline":"middle"},
  "encoding":{"x":{"field":"i","type":"quantitative","axis":null},"y":{"field":"p","type":"quantitative"},"text":{"field":"t"}}},
 {"data":{"values":[
   {"i":139.6,"p":1.25217,"t":"price action toppish,","col":"#ffffff"},
   {"i":139.6,"p":1.25112,"t":"3 candle tops","col":"#ffffff"},
   {"i":147.2,"p":1.24988,"t":"setup candle","col":"#ffffff"},
   {"i":118.5,"p":1.24357,"t":"the","col":"#dcc81e"},
   {"i":118.5,"p":1.24271,"t":"REVERSAL","col":"#dcc81e"},
   {"i":118.5,"p":1.24185,"t":"candle above","col":"#dcc81e"},
   {"i":118.5,"p":1.24003,"t":"below","col":"#dcc81e"},
   {"i":118.5,"p":1.23917,"t":"Stoch","col":"#dcc81e"},
   {"i":118.5,"p":1.23831,"t":"%K cross %D","col":"#dcc81e"}]},
  "mark":{"type":"text","font":"Liberation Serif","fontSize":8.3,"align":"left","baseline":"middle"},
  "encoding":{"x":{"field":"i","type":"quantitative","axis":null},"y":{"field":"p","type":"quantitative"},"text":{"field":"t"},"color":{"field":"col","type":"nominal","scale":null}}},
 {"data":{"values":[{"i":167.7,"p":1.2301,"t":">>>0:7:40"}]},
  "mark":{"type":"text","font":"DejaVu Sans Mono","fontSize":6.4,"color":"#c8c800","align":"right","baseline":"middle"},
  "encoding":{"x":{"field":"i","type":"quantitative","axis":null},"y":{"field":"p","type":"quantitative"},"text":{"field":"t"}}},
 {"data":{"values":[{"x1":169.4,"x2":174.6,"p1":1.24658,"p2":1.24584}]},
  "mark":{"type":"rect","color":"#ffffff"},
  "encoding":{"x":{"field":"x1","type":"quantitative","axis":null},"x2":{"field":"x2"},"y":{"field":"p1","type":"quantitative"},"y2":{"field":"p2"}}},
 {"data":{"values":[{"i":172,"p":1.24621,"t":"1.24621"}]},
  "mark":{"type":"text","font":"Liberation Sans","fontSize":4.7,"color":"#000000","align":"center","baseline":"middle"},
  "encoding":{"x":{"field":"i","type":"quantitative","axis":null},"y":{"field":"p","type":"quantitative"},"text":{"field":"t"}}}
]},
{"width":604,"height":43,"layer":[
 {"data":{"values":[{"v":20},{"v":50},{"v":80}]},"mark":{"type":"rule","color":"#808080","strokeDash":[1,2],"strokeWidth":1},
  "encoding":{"y":{"field":"v","type":"quantitative","scale":{"domain":[0,100],"nice":false,"zero":false},"axis":{"orient":"right","title":null,"values":[0,20,50,80,100],"labelFontSize":4.7,"tickCount":100}}}},
 {"data":{"values":[{"i":136.3,"col":"#b8b8a0"},{"i":137.5,"col":"#c8c800"}]},"mark":{"type":"rule","strokeDash":[2,2],"strokeWidth":1},
  "encoding":{"x":{"field":"i","type":"quantitative","scale":{"domain":[-0.8427,168.82],"nice":false,"zero":false},"axis":null},"color":{"field":"col","type":"nominal","scale":null}}},
 {"data":{"name":"bars"},"mark":{"type":"line","color":"#20b2aa","strokeWidth":1.2},
  "encoding":{"x":{"field":"i","type":"quantitative","axis":null},"y":{"field":"k","type":"quantitative"}}},
 {"data":{"name":"bars"},"mark":{"type":"line","color":"#ff0000","strokeWidth":1,"strokeDash":[1,1.5]},
  "encoding":{"x":{"field":"i","type":"quantitative","axis":null},"y":{"field":"d","type":"quantitative"}}},
 {"data":{"values":[{"i":0,"v":93,"t":"Stoch(8,3,3) 33.4931 26.1612"}]},
  "mark":{"type":"text","font":"Liberation Sans","fontSize":4.1,"color":"#ffffff","align":"left","baseline":"middle"},
  "encoding":{"x":{"field":"i","type":"quantitative","axis":null},"y":{"field":"v","type":"quantitative"},"text":{"field":"t"}}}
]},
{"width":604,"height":56,"layer":[
 {"data":{"values":[{"v":32},{"v":50},{"v":68}]},"mark":{"type":"rule","color":"#808080","strokeDash":[1,2],"strokeWidth":1},
  "encoding":{"y":{"field":"v","type":"quantitative","scale":{"domain":[23.4177,81.4215],"nice":false,"zero":false},
   "axis":{"orient":"right","title":null,"values":[23.4177,50,68,81.4215],"labelExpr":"datum.value > 80 ? '81.4215' : datum.value < 24 ? '23.4177' : format(datum.value, 'd')","labelBaseline":{"condition":{"test":"datum.value < 24","value":"bottom"},"value":"top"},"labelFontSize":4.7,"tickCount":100}}}},
 {"data":{"values":[{"i":136.3,"col":"#b8b8a0"},{"i":137.5,"col":"#c8c800"}]},"mark":{"type":"rule","strokeDash":[2,2],"strokeWidth":1},
  "encoding":{"x":{"field":"i","type":"quantitative","scale":{"domain":[-0.8427,168.82],"nice":false,"zero":false},
   "axis":{"title":null,"values":[0,8,16,24,32,40,48,56,64,72,80,88,96,104,112,120,128,136,144],"labelExpr":"['21 Jun 2020','22 Jun 01:15','22 Jun 03:15','22 Jun 05:15','22 Jun 07:15','22 Jun 09:15','22 Jun 11:15','22 Jun 13:15','22 Jun 15:15','22 Jun 17:15','22 Jun 19:15','22 Jun 21:15','22 Jun 23:15','23 Jun 01:15','23 Jun 03:15','23 Jun 05:15','23 Jun 07:15','23 Jun 09:15','23 Jun 11:15'][round(datum.value/8)]","labelAlign":"left","labelFontSize":3.6,"tickCount":100}},
   "color":{"field":"col","type":"nominal","scale":null}}},
 {"data":{"name":"bars"},"mark":{"type":"line","color":"#2a8ec4","strokeWidth":1},
  "encoding":{"x":{"field":"i","type":"quantitative"},"y":{"field":"up","type":"quantitative"}}},
 {"data":{"name":"bars"},"mark":{"type":"line","color":"#2a8ec4","strokeWidth":1},
  "encoding":{"x":{"field":"i","type":"quantitative"},"y":{"field":"lo","type":"quantitative"}}},
 {"data":{"name":"bars"},"mark":{"type":"line","color":"#c0c000","strokeWidth":1},
  "encoding":{"x":{"field":"i","type":"quantitative"},"y":{"field":"mid","type":"quantitative"}}},
 {"data":{"name":"bars"},"mark":{"type":"line","color":"#00a800","strokeWidth":1},
  "encoding":{"x":{"field":"i","type":"quantitative"},"y":{"field":"g","type":"quantitative"}}},
 {"data":{"name":"bars"},"mark":{"type":"line","color":"#ff0000","strokeWidth":1.5},
  "encoding":{"x":{"field":"i","type":"quantitative"},"y":{"field":"r","type":"quantitative"}}},
 {"data":{"values":[{"i":0,"v":78.3,"t":"Traders_Dynamic_Index 62.4742 49.1139 36.1475 42.1487 40.8429"}]},
  "mark":{"type":"text","font":"Liberation Sans","fontSize":4.1,"color":"#ffffff","align":"left","baseline":"middle"},
  "encoding":{"x":{"field":"i","type":"quantitative"},"y":{"field":"v","type":"quantitative"},"text":{"field":"t"}}}
]}
]
}
